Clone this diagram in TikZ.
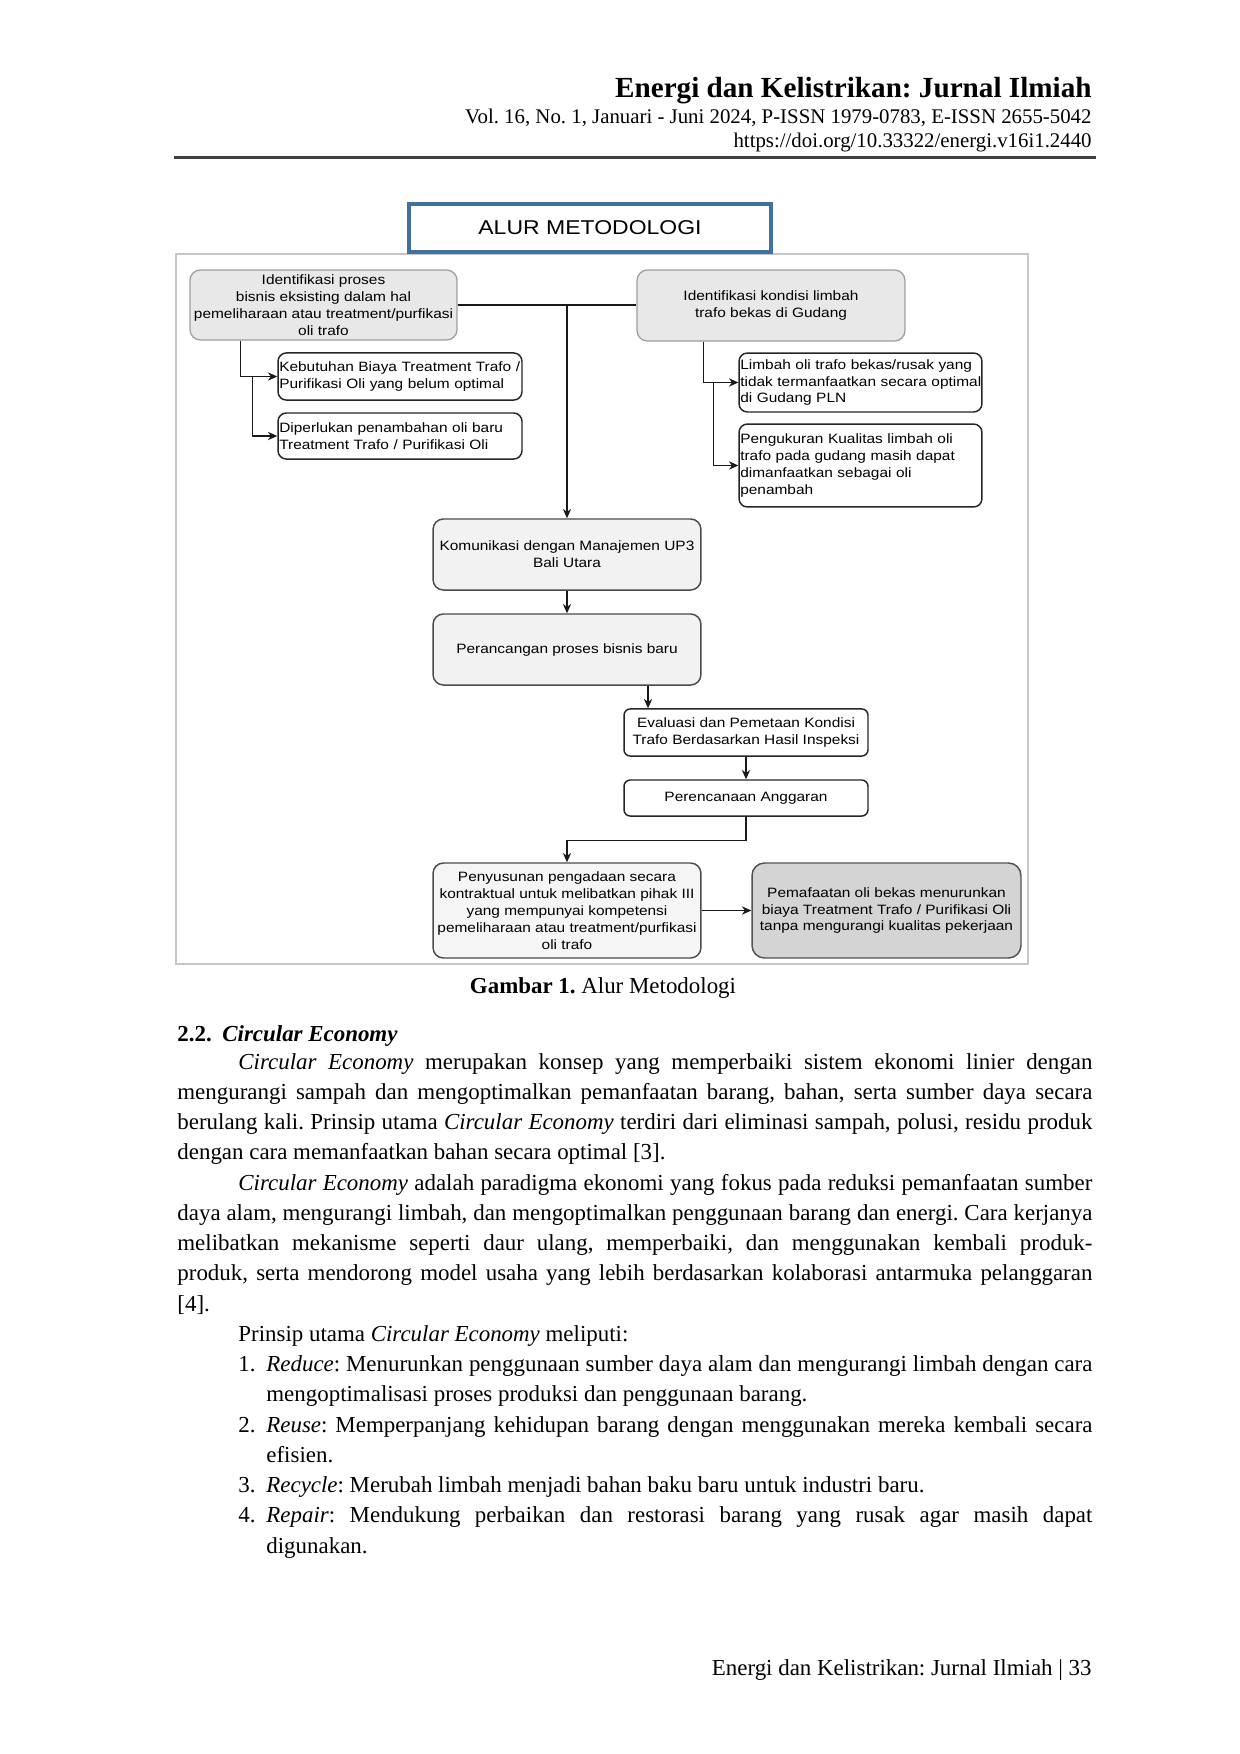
\documentclass[tikz,border=0pt]{standalone}
\usepackage{fontspec}
\setmainfont{Liberation Serif}
\newfontfamily\dfont{Liberation Sans}[FakeStretch=1.14]
\newfontfamily\tfont{Liberation Sans}[FakeStretch=1.15]
\usetikzlibrary{arrows.meta,calc}
\definecolor{tblue}{HTML}{41719C}
\newcommand\dtext{\dfont\fontsize{6.5}{8.1}\selectfont}
\newcommand\jl[2]{\makebox[#1][s]{#2}}
\frenchspacing
\begin{document}
\frenchspacing
\begin{tikzpicture}[x=0.48pt,y=-0.48pt,
  frame/.style={draw=black!22, line width=0.7pt},
  ttl/.style={draw=tblue, line width=1.8pt, fill=white, font=\tfont\fontsize{9.6}{11}\selectfont, inner sep=0pt},
  gbox/.style={rounded corners=5pt, draw=black!38, fill=black!9, line width=0.6pt, align=center, font=\dtext, inner sep=0.5pt},
  wbox/.style={rounded corners=4pt, draw=black!85, fill=white, line width=0.7pt, align=left, font=\dtext, inner xsep=0.6pt, inner ysep=0.5pt},
  cbox/.style={rounded corners=5pt, draw=black!70, fill=black!5, line width=0.7pt, align=center, font=\dtext, inner sep=0.5pt},
  ebox/.style={rounded corners=3pt, draw=black!85, fill=white, line width=0.7pt, align=center, font=\dtext, inner sep=0.5pt},
  mbox/.style={rounded corners=6pt, draw=black!68, fill=black!17, line width=0.7pt, align=center, font=\dtext, inner sep=0.5pt},
  arr/.style={-{Stealth[length=4.5pt,width=4pt]}, line width=0.6pt, draw=black!90},
  plain/.style={line width=0.6pt, draw=black!90},
  body/.style={anchor=base west, inner sep=0pt, font=\fontsize{11}{13}\selectfont},
  hdr/.style={anchor=base east, inner sep=0pt, font=\fontsize{10}{12}\selectfont}]
\useasboundingbox (0,0) rectangle (1240,1754);
\fill[white] (0,0) rectangle (1240,1754);

% header
\node[anchor=base east, inner sep=0pt, font=\fontsize{14}{16}\selectfont\bfseries] (h1) at (1092,97) {Energi dan Kelistrikan: Jurnal Ilmiah};
\node[hdr] (h2) at (1092,123) {Vol. 16, No. 1, Januari - Juni 2024, P-ISSN 1979-0783, E-ISSN 2655-5042};
\node[hdr] (h3) at (1092,147) {https://doi.org/10.33322/energi.v16i1.2440};
\draw[line width=1pt, black!75] (174,157.5) -- (1096,157.5);

% diagram frame and title
\draw[frame] (176,254) rectangle (1028,964);
\node[ttl, minimum width=173.8pt, minimum height=23pt] (T) at (590,228) {ALUR METODOLOGI};

% boxes
\node[gbox, minimum width=128.2pt, minimum height=33.6pt] (A) at (323.5,305) {Identifikasi proses\\bisnis eksisting dalam hal\\pemeliharaan atau treatment/purfikasi\\oli trafo};
\node[gbox, minimum width=128.6pt, minimum height=34.1pt] (B) at (771,305.5) {Identifikasi kondisi limbah\\trafo bekas di Gudang};
\node[wbox, text width=115.9pt, minimum height=22.6pt] (A1) at (400,376.5) {\mbox{Kebutuhan Biaya Treatment Trafo /}\\\mbox{Purifikasi Oli yang belum optimal}};
\node[wbox, text width=115.9pt, minimum height=22.1pt] (A2) at (400,436) {Diperlukan penambahan oli baru\\Treatment Trafo / Purifikasi Oli};
\node[wbox, text width=115.4pt, minimum height=28.3pt] (B1) at (860.5,382.5) {\mbox{Limbah oli trafo bekas/rusak yang}\\\mbox{tidak termanfaatkan secara optimal}\\di Gudang PLN};
\node[wbox, text width=115.4pt, minimum height=39.8pt] (B2) at (860.5,465.5) {Pengukuran Kualitas limbah oli\\trafo pada gudang masih dapat\\dimanfaatkan sebagai oli\\penambah};
\node[cbox, minimum width=128.6pt, minimum height=34.1pt] (K) at (567,554.5) {Komunikasi dengan Manajemen UP3\\Bali Utara};
\node[cbox, minimum width=128.6pt, minimum height=34.1pt] (P) at (567,649.5) {Perancangan proses bisnis baru};
\node[ebox, minimum width=117.1pt, minimum height=22.6pt] (E) at (746,732.5) {Evaluasi dan Pemetaan Kondisi\\Trafo Berdasarkan Hasil Inspeksi};
\node[ebox, minimum width=117.1pt, minimum height=17.3pt] (R) at (746,798) {Perencanaan Anggaran};
\node[cbox, fill=black!4, minimum width=128.6pt, minimum height=45.6pt] (S) at (567,910.5) {Penyusunan pengadaan secara\\kontraktual untuk melibatkan pihak III\\yang mempunyai kompetensi\\pemeliharaan atau treatment/purfikasi\\oli trafo};
\node[mbox, minimum width=129.1pt, minimum height=45.6pt] (M) at (886.5,910.5) {Pemafaatan oli bekas menurunkan\\biaya Treatment Trafo / Purifikasi Oli\\tanpa mengurangi kualitas pekerjaan};

% connectors
\draw[plain] (A.east) -- (A.east -| B.west);
\draw[arr] (A.east -| K.north) -- (K.north);
\draw[arr] ([xshift=24.5pt]A.south west) |- (A1.west);
\draw[arr] ([xshift=-12pt]A1.west) |- (A2.west);
\draw[arr] ([xshift=32.2pt]B.south west) |- (B1.west);
\draw[arr] ([xshift=-12pt]B1.west) |- (B2.west);
\draw[arr] (K.south) -- (P.north);
\draw[arr] ([xshift=38.9pt]P.south) -- ([xshift=38.9pt]P.south |- E.north);
\draw[arr] (E.south) -- (R.north);
\draw[arr] (R.south) -- ++(0pt,-11.5pt) -| (S.north);
\draw[arr] (S.east) -- (M.west);

% caption
\node[anchor=base, inner sep=0pt, font=\fontsize{11}{13}\selectfont] (cap) at (603,993) {\textbf{Gambar 1.} Alur Metodologi};

% section
\node[body, font=\fontsize{11}{13}\selectfont\bfseries] (s1) at (177,1041) {2.2.};
\node[body, font=\fontsize{11}{13}\selectfont\bfseries\itshape] (s2) at (222,1041) {Circular Economy};

\node[body] (l0) at (238,1069) {\jl{409.9pt}{\textit{Circular Economy} merupakan konsep yang memperbaiki sistem ekonomi linier dengan}};
\node[body] (l1) at (177,1099.3) {\jl{439.2pt}{mengurangi sampah dan mengoptimalkan pemanfaatan barang, bahan, serta sumber daya secara}};
\node[body] (l2) at (177,1129.5) {\jl{439.2pt}{berulang kali. Prinsip utama \textit{Circular Economy} terdiri dari eliminasi sampah, polusi, residu produk}};
\node[body] (l3) at (177,1159.8) {dengan cara memanfaatkan bahan secara optimal [3].};
\node[body] (l4) at (238,1190.0) {\jl{409.9pt}{\textit{Circular Economy} adalah paradigma ekonomi yang fokus pada reduksi pemanfaatan sumber}};
\node[body] (l5) at (177,1220.3) {\jl{439.2pt}{daya alam, mengurangi limbah, dan mengoptimalkan penggunaan barang dan energi. Cara kerjanya}};
\node[body] (l6) at (177,1250.6) {\jl{439.2pt}{melibatkan mekanisme seperti daur ulang, memperbaiki, dan menggunakan kembali produk-}};
\node[body] (l7) at (177,1280.8) {\jl{439.2pt}{produk, serta mendorong model usaha yang lebih berdasarkan kolaborasi antarmuka pelanggaran}};
\node[body] (l8) at (177,1311.1) {[4].};
\node[body] (l9) at (238,1341.3) {Prinsip utama \textit{Circular Economy} meliputi:};
\node[body] (n1) at (238,1371.6) {1.};
\node[body] (l10) at (266,1371.6) {\jl{396.5pt}{\textit{Reduce}: Menurunkan penggunaan sumber daya alam dan mengurangi limbah dengan cara}};
\node[body] (l11) at (266,1401.9) {mengoptimalisasi proses produksi dan penggunaan barang.};
\node[body] (n2) at (238,1432.1) {2.};
\node[body] (l12) at (266,1432.1) {\jl{396.5pt}{\textit{Reuse}: Memperpanjang kehidupan barang dengan menggunakan mereka kembali secara}};
\node[body] (l13) at (266,1462.4) {efisien.};
\node[body] (n3) at (238,1492.6) {3.};
\node[body] (l14) at (266,1492.6) {\textit{Recycle}: Merubah limbah menjadi bahan baku baru untuk industri baru.};
\node[body] (n4) at (238,1522.9) {4.};
\node[body] (l15) at (266,1522.9) {\jl{396.5pt}{\textit{Repair}: Mendukung perbaikan dan restorasi barang yang rusak agar masih dapat}};
\node[body] (l16) at (266,1553.2) {digunakan.};

% footer
\node[anchor=base east, inner sep=0pt, font=\fontsize{11}{13}\selectfont] (ft) at (1092,1675) {Energi dan Kelistrikan: Jurnal Ilmiah | 33};
\end{tikzpicture}
\end{document}
